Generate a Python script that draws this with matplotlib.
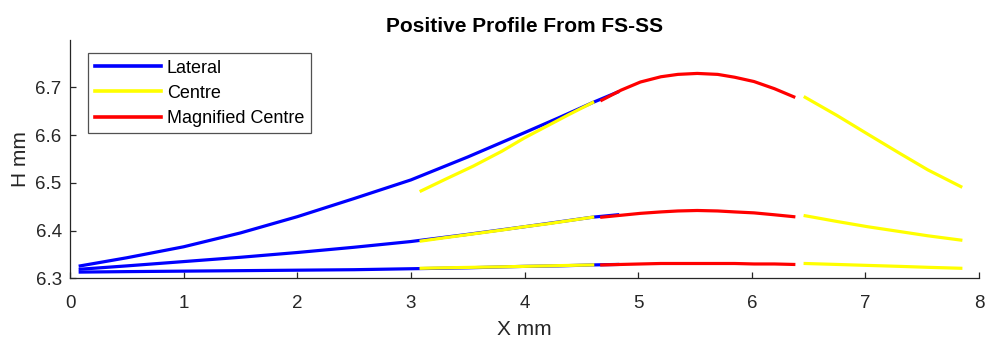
import matplotlib.pyplot as plt

plt.rcParams['font.family'] = ['Liberation Sans', 'DejaVu Sans']

# --- Lateral (blue), three profiles ---
lat_x = [0.09, 0.5, 1.0, 1.5, 2.0, 2.5, 3.0, 3.5, 4.0, 4.3, 4.6, 4.82]
lat_top = [6.326, 6.343, 6.366, 6.395, 6.429, 6.467, 6.506, 6.554, 6.605, 6.636, 6.668, 6.690]
lat_mid = [6.319, 6.326, 6.335, 6.344, 6.354, 6.365, 6.377, 6.392, 6.408, 6.418, 6.428, 6.433]
lat_low = [6.313, 6.314, 6.315, 6.316, 6.317, 6.318, 6.320, 6.322, 6.325, 6.326, 6.328, 6.329]

# --- Centre (yellow), left part ---
cen_l_x = [3.09, 3.3, 3.55, 3.8, 4.0, 4.2, 4.4, 4.6]
cen_l_top = [6.483, 6.507, 6.535, 6.566, 6.594, 6.619, 6.644, 6.668]
cen_l_mid = [6.378, 6.385, 6.393, 6.401, 6.408, 6.414, 6.421, 6.428]
cen_l_low = [6.321, 6.322, 6.323, 6.324, 6.325, 6.326, 6.327, 6.328]

# --- Centre (yellow), right part ---
cen_r_x = [6.47, 6.75, 7.02, 7.3, 7.55, 7.84]
cen_r_top = [6.679, 6.641, 6.602, 6.562, 6.527, 6.492]
cen_r_mid = [6.431, 6.419, 6.408, 6.398, 6.389, 6.380]
cen_r_low = [6.331, 6.329, 6.327, 6.325, 6.323, 6.321]

# --- Magnified centre (red) ---
mag_x = [4.68, 4.85, 5.02, 5.2, 5.35, 5.52, 5.7, 5.85, 6.02, 6.2, 6.37]
mag_top = [6.673, 6.694, 6.711, 6.722, 6.727, 6.729, 6.727, 6.721, 6.712, 6.697, 6.680]
mag_mid = [6.428, 6.432, 6.436, 6.439, 6.441, 6.442, 6.441, 6.439, 6.437, 6.433, 6.429]
mag_low = [6.328, 6.329, 6.330, 6.331, 6.331, 6.331, 6.331, 6.331, 6.330, 6.330, 6.329]

fig = plt.figure(figsize=(9.88, 3.40), dpi=100)
ax = fig.add_axes([70 / 988, 1 - 278.3 / 340, 909 / 988, 238.3 / 340])

lw = 2.3
for i, y in enumerate([lat_top, lat_mid, lat_low]):
    ax.plot(lat_x, y, color='#0000ff', lw=lw, label='Lateral' if i == 0 else None)
for i, y in enumerate([cen_l_top, cen_l_mid, cen_l_low]):
    ax.plot(cen_l_x, y, color='#ffff00', lw=lw, label='Centre' if i == 0 else None)
for y in [cen_r_top, cen_r_mid, cen_r_low]:
    ax.plot(cen_r_x, y, color='#ffff00', lw=lw)
for i, y in enumerate([mag_top, mag_mid, mag_low]):
    ax.plot(mag_x, y, color='#ff0000', lw=lw, label='Magnified Centre' if i == 0 else None)

ax.set_xlim(0, 8)
ax.set_ylim(6.3, 6.799)
ax.set_xticks(range(0, 9))
ax.set_yticks([6.3, 6.4, 6.5, 6.6, 6.7])
ax.set_yticklabels(['6.3', '6.4', '6.5', '6.6', '6.7'])

gray = '#262626'
for s in ['top', 'right']:
    ax.spines[s].set_visible(False)
for s in ['left', 'bottom']:
    ax.spines[s].set_color(gray)
    ax.spines[s].set_linewidth(0.9)
ax.tick_params(direction='in', length=4, width=0.9, colors=gray, labelsize=13.5)
ax.tick_params(axis='x', pad=12)
ax.tick_params(axis='y', pad=6)

ax.set_xlabel('X mm', fontsize=15, color=gray, labelpad=6)
ax.set_ylabel('H mm', fontsize=15, color=gray, labelpad=4)
ax.set_title('Positive Profile From FS-SS', fontsize=15, fontweight='bold', pad=6)

leg = ax.legend(loc='upper left', bbox_to_anchor=(18.3 / 909, 1 - 13.3 / 238.3), borderaxespad=0,
                fontsize=13, handlelength=3.7, handletextpad=0.3, labelspacing=0.45,
                frameon=True, fancybox=False, borderpad=0.35)
leg.get_frame().set_edgecolor(gray)
leg.get_frame().set_linewidth(0.9)
for line in leg.get_lines():
    line.set_linewidth(2.6)

fig.savefig('out.png', dpi=100)
